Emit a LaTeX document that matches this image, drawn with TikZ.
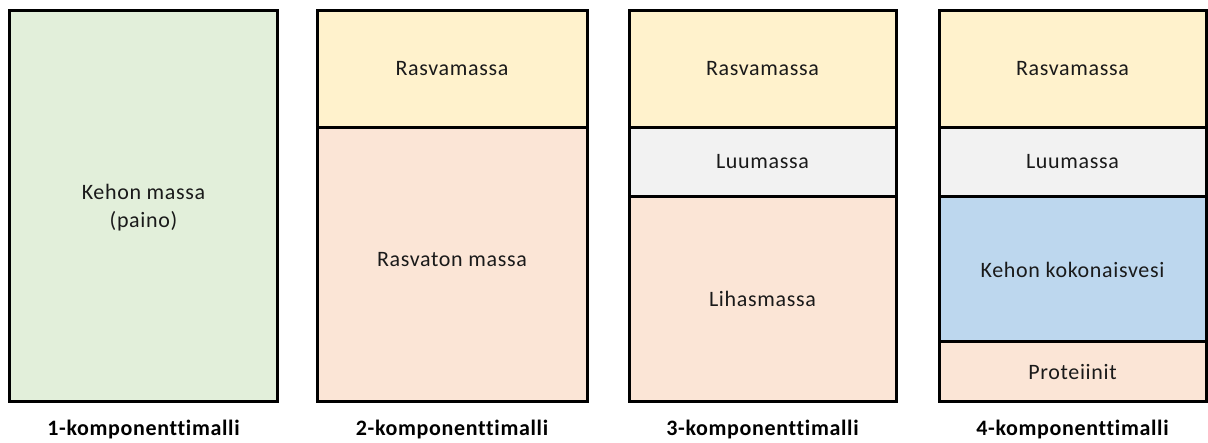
\documentclass[tikz,border=0pt]{standalone}
\usepackage{fontspec}
\setmainfont{Carlito}[LetterSpace=3,Ligatures=NoCommon]
\definecolor{cgreen}{HTML}{E2EFDA}
\definecolor{cyellow}{HTML}{FFF2CC}
\definecolor{cpeach}{HTML}{FBE5D6}
\definecolor{cgrey}{HTML}{F2F2F2}
\definecolor{cblue}{HTML}{BDD7EE}
\definecolor{ctext}{HTML}{1A1A1A}
\begin{document}
\begin{tikzpicture}[x=1pt,y=-1pt,
  box/.style={draw=black,line width=3pt},
  lbl/.style={text=ctext,font=\fontsize{22}{28}\selectfont,align=center,inner sep=0pt},
  captxt/.style={text=black,font=\fontsize{22}{26}\selectfont\bfseries,inner sep=0pt,anchor=base}]
\useasboundingbox (0,0) rectangle (1208,443);
% column 1
\fill[cgreen] (9.5,10.5) rectangle (277.5,401.5);
\draw[box] (9.5,10.5) rectangle (277.5,401.5);
\node[lbl] (k1) at (143.5,208) {Kehon massa\\(paino)};
% column 2
\fill[cyellow] (317.5,10.5) rectangle (587,127.5);
\fill[cpeach] (317.5,127.5) rectangle (587,401.5);
\draw[box] (317.5,10.5) rectangle (587,401.5);
\draw[box] (317.5,127.5) -- (587,127.5);
\node[lbl] (r2) at (452,69) {Rasvamassa};
\node[lbl] (rt2) at (452,260) {Rasvaton massa};
% column 3
\fill[cyellow] (629,10.5) rectangle (896,127.5);
\fill[cgrey] (629,127.5) rectangle (896,197);
\fill[cpeach] (629,197) rectangle (896,401.5);
\draw[box] (629,10.5) rectangle (896,401.5);
\draw[box] (629,127.5) -- (896,127.5);
\draw[box] (629,197) -- (896,197);
\node[lbl] (r3) at (762.5,69) {Rasvamassa};
\node[lbl] (l3) at (762.5,162) {Luumassa};
\node[lbl] (h3) at (762.5,299) {Lihasmassa};
% column 4
\fill[cyellow] (939,10.5) rectangle (1206,127.5);
\fill[cgrey] (939,127.5) rectangle (1206,197);
\fill[cblue] (939,197) rectangle (1206,342);
\fill[cpeach] (939,342) rectangle (1206,401.5);
\draw[box] (939,10.5) rectangle (1206,401.5);
\draw[box] (939,127.5) -- (1206,127.5);
\draw[box] (939,197) -- (1206,197);
\draw[box] (939,342) -- (1206,342);
\node[lbl] (r4) at (1072.5,69) {Rasvamassa};
\node[lbl] (l4) at (1072.5,162) {Luumassa};
\node[lbl] (v4) at (1072.5,270) {Kehon kokonaisvesi};
\node[lbl] (p4) at (1072.5,372) {Proteiinit};
% captions
\node[captxt] (c1) at (143.5,436) {1-komponenttimalli};
\node[captxt] (c2) at (452,436) {2-komponenttimalli};
\node[captxt] (c3) at (762.5,436) {3-komponenttimalli};
\node[captxt] (c4) at (1072.5,436) {4-komponenttimalli};
\end{tikzpicture}
\end{document}
